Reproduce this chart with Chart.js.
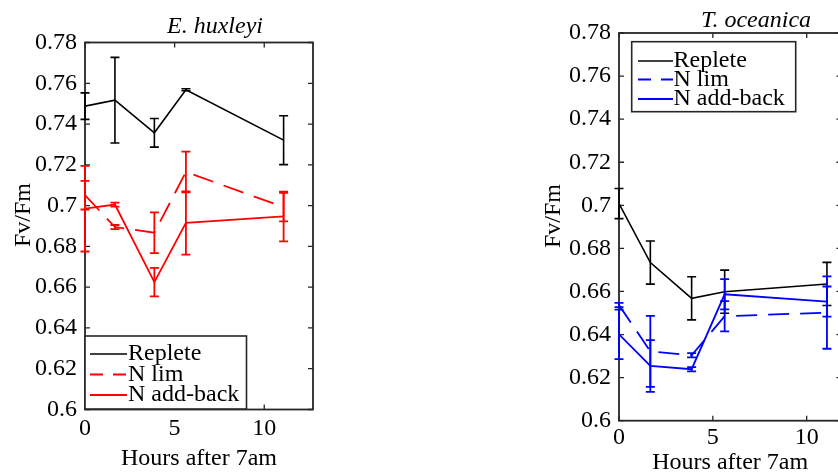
<!DOCTYPE html>
<html><head><meta charset="utf-8">
<script src="https://cdn.jsdelivr.net/npm/chart.js@4.4.0/dist/chart.umd.min.js"></script>
<style>
html,body{margin:0;padding:0;background:#fff;overflow:hidden;width:838px;height:476px;}
#wrap{position:relative;width:838px;height:476px;overflow:hidden;}
canvas{position:absolute;top:0;}
#c1{left:0;}
#c2{left:534px;}
</style></head><body>
<div id="wrap"><canvas id="c1" width="419" height="476"></canvas><canvas id="c2" width="340" height="476"></canvas></div>
<script>
// ---- data ----
const hours = [0, 1.67, 3.87, 5.63, 11.08];
const xTicks = [0, 5, 10];
const yTicks = [0.6, 0.62, 0.64, 0.66, 0.68, 0.7, 0.72, 0.74, 0.76, 0.78];
const yTickLabels = ['0.6', '0.62', '0.64', '0.66', '0.68', '0.7', '0.72', '0.74', '0.76', '0.78'];
const seriesLabels = ['Replete', 'N lim', 'N add-back'];
const panelTitles = ['E. huxleyi', 'T. oceanica'];
const xAxisTitle = 'Hours after 7am';
const yAxisTitle = 'Fv/Fm';

const ehReplete    = [0.7488, 0.7517, 0.7357, 0.7568, 0.7321];
const ehRepleteErr = [0.0065, 0.0210, 0.0070, 0.0005, 0.0120];
const ehNlim       = [0.7051, 0.6895, 0.6867, 0.7165, 0.6993];
const ehNlimErr    = [0.0070, 0.0010, 0.0100, 0.0100, 0.0070];
const ehAdd        = [0.6985, 0.7005, 0.6625, 0.6915, 0.6947];
const ehAddErr     = [0.0210, 0.0010, 0.0070, 0.0155, 0.0122];

const toReplete    = [0.7008, 0.6734, 0.6568, 0.6599, 0.6635];
const toRepleteErr = [0.0070, 0.0100, 0.0100, 0.0100, 0.0100];
const toNlim       = [0.6537, 0.6322, 0.6304, 0.6485, 0.6502];
const toNlimErr    = [0.0010, 0.0165, 0.0010, 0.0070, 0.0168];
const toAdd        = [0.6401, 0.6254, 0.6239, 0.6587, 0.6553];
const toAddErr     = [0.0115, 0.0120, 0.0010, 0.0070, 0.0070];

const FONT = 'Liberation Serif, Times New Roman, serif';
const FS = 24;
const AXIS_COLOR = '#262626';

// ---- plugins ----
const axesBox = {
  id: 'axesBox',
  beforeDatasetsDraw(chart) {
    const {ctx, chartArea: a, scales: {x, y}} = chart;
    ctx.save();
    ctx.strokeStyle = AXIS_COLOR;
    ctx.lineWidth = 1.8;
    ctx.strokeRect(a.left, a.top, a.right - a.left, a.bottom - a.top);
    ctx.lineWidth = 1.3;
    ctx.beginPath();
    x.ticks.forEach(t => {
      const px = x.getPixelForValue(t.value);
      ctx.moveTo(px, a.bottom); ctx.lineTo(px, a.bottom - 5);
      ctx.moveTo(px, a.top); ctx.lineTo(px, a.top + 5);
    });
    y.ticks.forEach(t => {
      const py = y.getPixelForValue(t.value);
      ctx.moveTo(a.left, py); ctx.lineTo(a.left + 5, py);
      ctx.moveTo(a.right, py); ctx.lineTo(a.right - 5, py);
    });
    ctx.stroke();
    ctx.restore();
  }
};

const errorBars = {
  id: 'errorBars',
  afterDatasetsDraw(chart) {
    const {ctx, scales: {x, y}} = chart;
    ctx.save();
    chart.data.datasets.forEach(d => {
      ctx.strokeStyle = d.borderColor;
      ctx.lineWidth = d.borderWidth;
      ctx.setLineDash([]);
      ctx.beginPath();
      d.data.forEach((pt, j) => {
        const e = d.err[j];
        const px = x.getPixelForValue(pt.x);
        const t = y.getPixelForValue(pt.y + e);
        const b = y.getPixelForValue(pt.y - e);
        const c = 4.5;
        ctx.moveTo(px, t); ctx.lineTo(px, b);
        ctx.moveTo(px - c, t); ctx.lineTo(px + c, t);
        ctx.moveTo(px - c, b); ctx.lineTo(px + c, b);
      });
      ctx.stroke();
    });
    ctx.restore();
  }
};

const panelText = {
  id: 'panelText',
  afterDraw(chart, args, o) {
    const {ctx} = chart;
    ctx.save();
    ctx.fillStyle = '#000';
    ctx.font = 'italic ' + FS + 'px ' + FONT;
    ctx.textAlign = 'center';
    ctx.textBaseline = 'alphabetic';
    ctx.fillText(o.title, o.tx, o.ty);
    ctx.font = FS + 'px ' + FONT;
    ctx.textBaseline = 'middle';
    ctx.translate(o.yx, o.yy);
    ctx.rotate(-Math.PI / 2);
    ctx.fillText(yAxisTitle, 0, 0);
    ctx.restore();
  }
};

const boxLegend = {
  id: 'boxLegend',
  afterDraw(chart, args, o) {
    const {ctx} = chart;
    ctx.save();
    ctx.fillStyle = '#fff';
    ctx.fillRect(o.left, o.top, o.right - o.left, o.bottom - o.top);
    ctx.strokeStyle = AXIS_COLOR;
    ctx.lineWidth = 1.6;
    ctx.strokeRect(o.left, o.top, o.right - o.left, o.bottom - o.top);
    chart.data.datasets.forEach((d, i) => {
      const yy = o.rows[i];
      ctx.strokeStyle = d.borderColor;
      ctx.lineWidth = d.borderWidth;
      ctx.setLineDash(d.borderDash ? [13, 10] : []);
      ctx.beginPath();
      ctx.moveTo(o.x0, yy); ctx.lineTo(o.x1, yy);
      ctx.stroke();
      ctx.setLineDash([]);
      ctx.font = FS + 'px ' + FONT;
      ctx.fillStyle = '#000';
      ctx.textAlign = 'left';
      ctx.textBaseline = 'middle';
      ctx.fillText(d.label, o.tx, yy);
    });
    ctx.restore();
  }
};

function makeData(vals) {
  return hours.map((h, i) => ({x: h, y: vals[i]}));
}

function buildChart(id, p) {
  const font = {family: FONT, size: FS, lineHeight: 1.2};
  const tfont = {family: FONT, size: FS, lineHeight: 1};
  const datasets = [
    {label: seriesLabels[0], data: makeData(p.rep), err: p.repErr, borderColor: '#000000', borderWidth: 1.6},
    {label: seriesLabels[1], data: makeData(p.lim), err: p.limErr, borderColor: p.color, borderWidth: 1.8, borderDash: [21, 11]},
    {label: seriesLabels[2], data: makeData(p.add), err: p.addErr, borderColor: p.color, borderWidth: 1.8}
  ].map(d => Object.assign({pointRadius: 0, pointHoverRadius: 0, fill: false, tension: 0}, d));
  return new Chart(document.getElementById(id), {
    type: 'line',
    data: {datasets},
    options: {
      responsive: false, animation: false, events: [],
      layout: {padding: {left: 0, right: p.padRight, top: p.padTop, bottom: 0}},
      plugins: {
        legend: {display: false}, tooltip: {enabled: false},
        panelText: p.text, boxLegend: p.legend
      },
      scales: {
        x: {
          type: 'linear', min: 0, max: p.xMax,
          afterBuildTicks: s => { s.ticks = xTicks.map(v => ({value: v})); },
          afterFit: s => { s.height = p.xHeight; },
          grid: {display: false, drawTicks: false}, border: {display: false},
          ticks: {font, color: '#000', padding: p.xTickPad, maxRotation: 0, autoSkip: false},
          title: {display: true, text: xAxisTitle, font: tfont, color: '#000', padding: {top: 0, bottom: p.xTitlePad}}
        },
        y: {
          type: 'linear', min: 0.6, max: 0.78,
          afterBuildTicks: s => { s.ticks = yTicks.map(v => ({value: v})); },
          afterFit: s => { s.width = 85; },
          grid: {display: false, drawTicks: false}, border: {display: false},
          ticks: {font, color: '#000', padding: 8, autoSkip: false, callback: (v, i) => yTickLabels[i]}
        }
      }
    },
    plugins: [axesBox, errorBars, panelText, boxLegend]
  });
}

buildChart('c1', {
  rep: ehReplete, repErr: ehRepleteErr, lim: ehNlim, limErr: ehNlimErr, add: ehAdd, addErr: ehAddErr,
  color: '#ff0000', xMax: 12.72, padRight: 106, padTop: 42.5, xHeight: 66.5,
  xTickPad: 5, xTitlePad: 5,
  text: {title: panelTitles[0], tx: 215, ty: 33, yx: 24, yy: 215},
  legend: {left: 85, top: 336, right: 246.5, bottom: 409, x0: 90, x1: 127, tx: 128, rows: [354, 374.5, 395]}
});

buildChart('c2', {
  rep: toReplete, repErr: toRepleteErr, lim: toNlim, limErr: toNlimErr, add: toAdd, addErr: toAddErr,
  color: '#0000ff', xMax: 11.85, padRight: 32.6, padTop: 33, xHeight: 55.3,
  xTickPad: 3, xTitlePad: 1,
  text: {title: panelTitles[1], tx: 222, ty: 27, yx: 20, yy: 216},
  legend: {left: 97.7, top: 41.7, right: 261.7, bottom: 111.7, x0: 104, x1: 139, tx: 139.5, rows: [61, 79.5, 99]}
});
</script>
</body></html>
